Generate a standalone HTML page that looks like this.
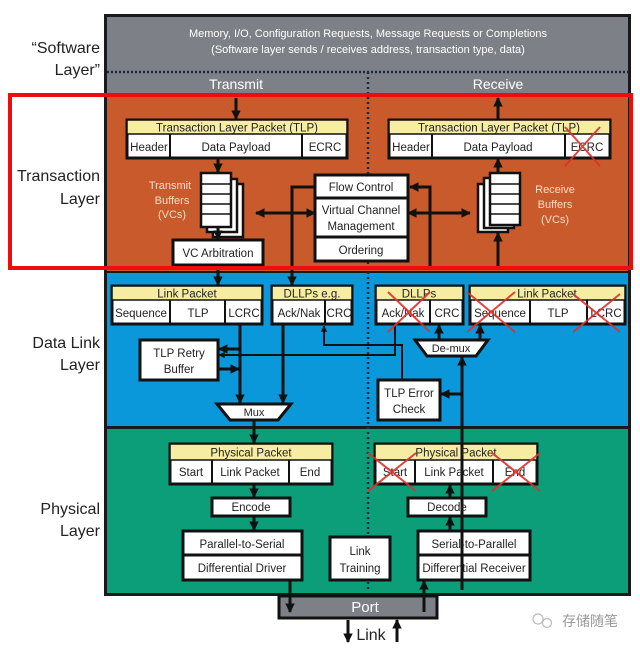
<!DOCTYPE html>
<html><head><meta charset="utf-8"><style>
html,body{margin:0;padding:0;background:#fff;}
svg{display:block;font-family:"Liberation Sans",Arial,sans-serif;}
</style></head><body>
<svg width="640" height="648" viewBox="0 0 640 648" xmlns="http://www.w3.org/2000/svg">
<defs>
<marker id="a" viewBox="0 0 10 10" refX="9" refY="5" markerWidth="3.2" markerHeight="3.2" orient="auto-start-reverse"><path d="M0,0 L10,5 L0,10 z" fill="#111"/></marker>
</defs>
<rect x="104" y="14" width="527" height="582" fill="#1a1a1a"/>
<rect x="107" y="17" width="521" height="79" fill="#7d8187"/>
<rect x="107" y="96" width="521" height="175" fill="#c85a2c"/>
<rect x="107" y="273" width="521" height="153" fill="#0b98da"/>
<rect x="107" y="429" width="521" height="164" fill="#0c9d79"/>
<line x1="107" y1="72" x2="628" y2="72" stroke="#1a2a40" stroke-width="2.5" stroke-dasharray="2,2"/>
<line x1="368" y1="72" x2="368" y2="592" stroke="#1a2a40" stroke-width="2.5" stroke-dasharray="2,3"/>
<g fill="#fff" font-size="11" text-anchor="middle">
<text x="368" y="37">Memory, I/O, Configuration Requests, Message Requests or Completions</text>
<text x="368" y="53">(Software layer sends / receives address, transaction type, data)</text>
<text x="236" y="89" font-size="14">Transmit</text>
<text x="498" y="89" font-size="14">Receive</text>
</g>
<g fill="#222" font-size="16" text-anchor="end">
<text x="100" y="53">“Software</text><text x="100" y="75">Layer”</text>
<text x="100" y="181">Transaction</text><text x="100" y="204">Layer</text>
<text x="100" y="348">Data Link</text><text x="100" y="370">Layer</text>
<text x="100" y="514">Physical</text><text x="100" y="536">Layer</text>
</g>
<g stroke="#111" stroke-width="3" fill="#fff" font-size="12">
<rect x="127" y="120" width="220" height="38"/>
<rect x="127" y="120" width="220" height="14" fill="#f7eda2" stroke-width="1.5"/>
<line x1="170" y1="134" x2="170" y2="158" stroke-width="2"/><line x1="302" y1="134" x2="302" y2="158" stroke-width="2"/>
<rect x="389" y="120" width="221" height="38"/>
<rect x="389" y="120" width="221" height="14" fill="#f7eda2" stroke-width="1.5"/>
<line x1="432" y1="134" x2="432" y2="158" stroke-width="2"/><line x1="565" y1="134" x2="565" y2="158" stroke-width="2"/>
<rect x="213" y="184" width="30" height="53" stroke-width="2.5"/>
<rect x="207" y="179" width="30" height="53" stroke-width="2.5"/>
<rect x="201" y="173" width="30" height="54" stroke-width="2.5"/>
<rect x="173" y="240" width="90" height="25"/>
<rect x="315" y="175" width="93" height="86"/>
<line x1="315" y1="198" x2="408" y2="198"/><line x1="315" y1="237" x2="408" y2="237"/>
<rect x="478" y="184" width="30" height="48" stroke-width="2.5"/>
<rect x="484" y="178" width="30" height="50" stroke-width="2.5"/>
<rect x="490" y="173" width="30" height="52" stroke-width="2.5"/>
<rect x="112" y="286" width="150" height="38"/><rect x="112" y="286" width="150" height="14" fill="#f7eda2" stroke-width="1.5"/>
<line x1="170" y1="300" x2="170" y2="324" stroke-width="2"/><line x1="225" y1="300" x2="225" y2="324" stroke-width="2"/>
<rect x="272" y="286" width="80" height="38"/><rect x="272" y="286" width="80" height="14" fill="#f7eda2" stroke-width="1.5"/>
<line x1="325" y1="300" x2="325" y2="324" stroke-width="2"/>
<rect x="376" y="286" width="87" height="38"/><rect x="376" y="286" width="87" height="14" fill="#f7eda2" stroke-width="1.5"/>
<line x1="430" y1="300" x2="430" y2="324" stroke-width="2"/>
<rect x="470" y="286" width="155" height="38"/><rect x="470" y="286" width="155" height="14" fill="#f7eda2" stroke-width="1.5"/>
<line x1="530" y1="300" x2="530" y2="324" stroke-width="2"/><line x1="587" y1="300" x2="587" y2="324" stroke-width="2"/>
<rect x="140" y="340" width="78" height="40"/>
<rect x="378" y="380" width="62" height="40"/>
<path d="M217,404 L291,404 L278,420 L230,420 z"/>
<path d="M415,340 L488,340 L476,356 L427,356 z"/>
<rect x="170" y="444" width="162" height="40"/><rect x="170" y="444" width="162" height="16" fill="#f7eda2" stroke-width="1.5"/>
<line x1="212" y1="460" x2="212" y2="484" stroke-width="2"/><line x1="289" y1="460" x2="289" y2="484" stroke-width="2"/>
<rect x="375" y="444" width="162" height="40"/><rect x="375" y="444" width="162" height="16" fill="#f7eda2" stroke-width="1.5"/>
<line x1="415" y1="460" x2="415" y2="484" stroke-width="2"/><line x1="493" y1="460" x2="493" y2="484" stroke-width="2"/>
<rect x="212" y="498" width="78" height="18"/>
<rect x="408" y="498" width="78" height="18"/>
<rect x="183" y="531" width="119" height="49"/><line x1="183" y1="555" x2="302" y2="555"/>
<rect x="330" y="537" width="60" height="43"/>
<rect x="418" y="531" width="112" height="49"/><line x1="418" y1="555" x2="530" y2="555"/>
<rect x="279" y="596" width="158" height="22" fill="#7d8187"/>
</g>
<g stroke="#111" stroke-width="1.5">
<line x1="201" y1="184" x2="231" y2="184"/><line x1="201" y1="194" x2="231" y2="194"/><line x1="201" y1="204" x2="231" y2="204"/><line x1="201" y1="214" x2="231" y2="214"/>
<line x1="490" y1="184" x2="520" y2="184"/><line x1="490" y1="194" x2="520" y2="194"/><line x1="490" y1="204" x2="520" y2="204"/><line x1="490" y1="214" x2="520" y2="214"/>
</g>
<g stroke="#111" stroke-width="3" fill="none" marker-end="url(#a)">
<line x1="236" y1="98" x2="236" y2="119"/>
<line x1="498" y1="119" x2="498" y2="98"/>
<line x1="218" y1="158" x2="218" y2="172"/>
<line x1="218" y1="228" x2="218" y2="239"/>
<line x1="498" y1="270" x2="498" y2="233"/>
<line x1="498" y1="172" x2="498" y2="159"/>
<line x1="315" y1="213" x2="256" y2="213" marker-start="url(#a)"/>
<line x1="408" y1="213" x2="470" y2="213" marker-start="url(#a)"/>
<line x1="218" y1="265" x2="218" y2="285"/>
<polyline points="315,187 292,187 292,285"/>
<polyline points="430,270 430,187 410,187"/>
<line x1="240" y1="324" x2="240" y2="403"/>
<line x1="283" y1="324" x2="283" y2="403"/>
<line x1="240" y1="349" x2="219" y2="349"/>
<line x1="218" y1="369" x2="239" y2="369"/>
<polyline points="395,324 395,355 219,355" stroke-width="2"/>
<polyline points="402,380 402,345 324,345 324,326" stroke-width="2"/>
<line x1="462" y1="590" x2="462" y2="357"/>
<line x1="462" y1="394" x2="441" y2="394"/>
<line x1="439" y1="340" x2="439" y2="325"/>
<line x1="480" y1="340" x2="480" y2="325"/>
<line x1="254" y1="420" x2="254" y2="443"/>
<line x1="254" y1="484" x2="254" y2="497"/>
<line x1="254" y1="516" x2="254" y2="530"/>
<line x1="450" y1="530" x2="450" y2="517"/>
<line x1="450" y1="497" x2="450" y2="485"/>
<line x1="462" y1="443" x2="462" y2="428" marker-end="none"/>
<line x1="290" y1="580" x2="290" y2="612"/>
<line x1="424" y1="612" x2="424" y2="581"/>
<line x1="348" y1="620" x2="348" y2="642"/>
<line x1="397" y1="642" x2="397" y2="620"/>
</g>
<g fill="#222" font-size="11.5" text-anchor="middle">
<text x="237" y="131.5">Transaction Layer Packet (TLP)</text>
<text x="149" y="151">Header</text><text x="236" y="151">Data Payload</text><text x="325" y="151">ECRC</text>
<text x="499" y="131.5">Transaction Layer Packet (TLP)</text>
<text x="411" y="151">Header</text><text x="498" y="151">Data Payload</text><text x="587" y="151">ECRC</text>
<text x="218" y="257">VC Arbitration</text>
<text x="361" y="191">Flow Control</text>
<text x="361" y="214">Virtual Channel</text><text x="361" y="230">Management</text>
<text x="361" y="254">Ordering</text>
<text x="187" y="297.5">Link Packet</text>
<text x="141" y="317">Sequence</text><text x="198" y="317">TLP</text><text x="244" y="317">LCRC</text>
<text x="312" y="297.5">DLLPs e.g.</text>
<text x="299" y="317">Ack/Nak</text><text x="339" y="317">CRC</text>
<text x="419" y="297.5">DLLPs</text>
<text x="403" y="317">Ack/Nak</text><text x="447" y="317">CRC</text>
<text x="547" y="297.5">Link Packet</text>
<text x="500" y="317">Sequence</text><text x="558" y="317">TLP</text><text x="606" y="317">LCRC</text>
<text x="179" y="357">TLP Retry</text><text x="179" y="373">Buffer</text>
<text x="409" y="397">TLP Error</text><text x="409" y="413">Check</text>
<text x="254" y="416" font-size="11">Mux</text>
<text x="451" y="352" font-size="11">De-mux</text>
<text x="251" y="456.5">Physical Packet</text>
<text x="191" y="476">Start</text><text x="250" y="476">Link Packet</text><text x="310" y="476">End</text>
<text x="456" y="456.5">Physical Packet</text>
<text x="395" y="476">Start</text><text x="454" y="476">Link Packet</text><text x="515" y="476">End</text>
<text x="251" y="511">Encode</text><text x="447" y="511">Decode</text>
<text x="242" y="548">Parallel-to-Serial</text><text x="242" y="572">Differential Driver</text>
<text x="360" y="555">Link</text><text x="360" y="572">Training</text>
<text x="474" y="548">Serial-to-Parallel</text><text x="474" y="572">Differential Receiver</text>
</g>
<g fill="#fbdcc4" font-size="11" text-anchor="middle">
<text x="170" y="189">Transmit</text><text x="172" y="204">Buffers</text><text x="172" y="218">(VCs)</text>
<text x="555" y="193">Receive</text><text x="555" y="208">Buffers</text><text x="555" y="223">(VCs)</text>
</g>
<text x="365" y="612" fill="#fff" font-size="15" text-anchor="middle">Port</text>
<text x="371" y="640" fill="#222" font-size="16" text-anchor="middle">Link</text>
<text x="590" y="626" fill="#999" font-size="14" text-anchor="middle" font-family="'Liberation Sans','Noto Sans CJK SC',sans-serif">存储随笔</text>
<g fill="none" stroke="#bbb" stroke-width="1.2"><circle cx="538" cy="619" r="5"/><circle cx="547" cy="623" r="4.5"/></g>
<g stroke="#e0302a" stroke-width="2" opacity="0.9">
<line x1="565" y1="127" x2="600" y2="166"/><line x1="600" y1="127" x2="565" y2="166"/>
<line x1="388" y1="292" x2="430" y2="332"/><line x1="430" y1="292" x2="388" y2="332"/>
<line x1="467" y1="292" x2="515" y2="332"/><line x1="515" y1="292" x2="467" y2="332"/>
<line x1="573" y1="294" x2="620" y2="332"/><line x1="620" y1="294" x2="573" y2="332"/>
<line x1="368" y1="453" x2="416" y2="491"/><line x1="416" y1="453" x2="368" y2="491"/>
<line x1="492" y1="453" x2="540" y2="491"/><line x1="540" y1="453" x2="492" y2="491"/>
</g>
<rect x="10" y="95" width="621" height="173" fill="none" stroke="#ee0c0c" stroke-width="4"/>
</svg>
</body></html>
